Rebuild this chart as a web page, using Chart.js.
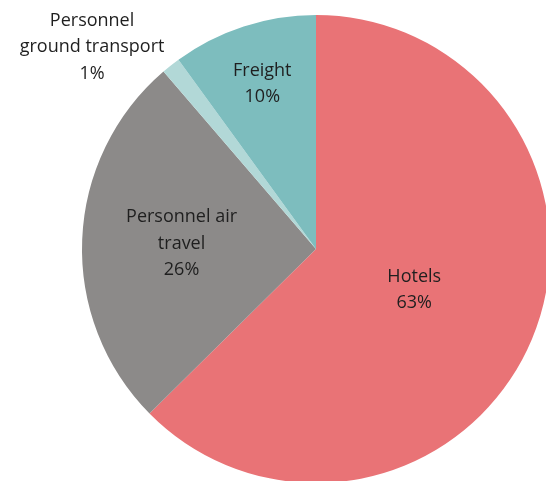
<!DOCTYPE html>
<html>
<head>
<meta charset="utf-8">
<script src="https://cdn.jsdelivr.net/npm/chart.js@4/dist/chart.umd.min.js"></script>
<style>
  html, body { margin: 0; padding: 0; background: #ffffff; }
  #wrap { width: 546px; height: 481px; overflow: hidden; }
</style>
</head>
<body>
<div id="wrap"><canvas id="c" width="546" height="481"></canvas></div>
<script>
// ---- Data ----
const categories = ["Hotels", "Personnel air travel", "Personnel ground transport", "Freight"];
const labelLines = [["Hotels"], ["Personnel air", "travel"], ["Personnel", "ground transport"], ["Freight"]];
const values = [62.6, 26.1, 1.3, 10.0];
const colors = ["#E97376", "#8C8A89", "#B2D8D7", "#7DBDBE"];

// label placement (radial fraction of radius, angular nudge in degrees)
const labelPlace = [
  { f: 0.455, nudge: 0 },
  { f: 0.575, nudge: 0 },
  { f: 1.289, nudge: -9.6 },
  { f: 0.743, nudge: 0 }
];

const total = values.reduce((a, b) => a + b, 0);

const labelPlugin = {
  id: 'sliceLabels',
  afterDatasetsDraw(chart) {
    const ctx = chart.ctx;
    const meta = chart.getDatasetMeta(0);
    ctx.save();
    ctx.font = '18px "Open Sans", sans-serif';
    ctx.fillStyle = '#1f1f1f';
    ctx.textAlign = 'center';
    ctx.textBaseline = 'middle';
    const lineH = 26.5;
    meta.data.forEach((arc, i) => {
      const p = arc.getProps(['x', 'y', 'startAngle', 'endAngle', 'outerRadius'], true);
      const mid = (p.startAngle + p.endAngle) / 2 + labelPlace[i].nudge * Math.PI / 180;
      const r = p.outerRadius * labelPlace[i].f;
      const cx = p.x + Math.cos(mid) * r;
      const cy = p.y + Math.sin(mid) * r;
      const pct = Math.round(values[i] / total * 100) + '%';
      const lines = labelLines[i].concat([pct]);
      const y0 = cy - (lines.length - 1) * lineH / 2;
      lines.forEach((t, k) => ctx.fillText(t, cx, y0 + k * lineH));
    });
    ctx.restore();
  }
};

new Chart(document.getElementById('c'), {
  type: 'pie',
  data: {
    labels: categories,
    datasets: [{
      data: values,
      backgroundColor: colors,
      borderWidth: 0,
      radius: 234,
      clip: false
    }]
  },
  options: {
    responsive: false,
    animation: false,
    devicePixelRatio: 1,
    layout: { padding: { left: 86, right: 0, top: 17, bottom: 0 } },
    plugins: {
      legend: { display: false },
      tooltip: { enabled: false }
    }
  },
  plugins: [labelPlugin]
});
</script>
</body>
</html>
